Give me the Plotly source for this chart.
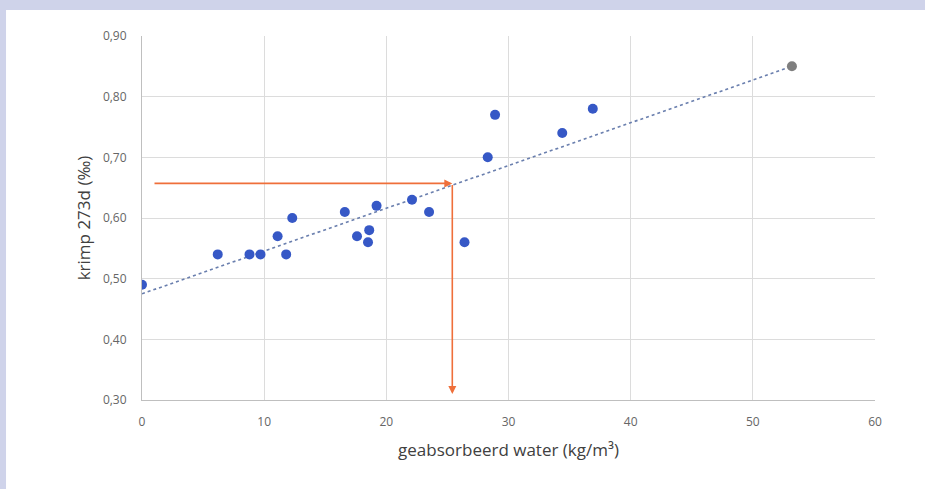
import plotly.graph_objects as go

# measured data: geabsorbeerd water (kg/m3) vs krimp 273d (permille)
water = [0.0, 6.2, 8.8, 9.7, 11.1, 11.8, 12.3, 16.6, 17.6, 18.5, 18.6, 19.2,
         22.1, 23.5, 26.4, 28.3, 28.9, 34.4, 36.9]
krimp = [0.49, 0.54, 0.54, 0.54, 0.57, 0.54, 0.60, 0.61, 0.57, 0.56, 0.58, 0.62,
         0.63, 0.61, 0.56, 0.70, 0.77, 0.74, 0.78]

# extrapolated (grey) point
extra_water = [53.2]
extra_krimp = [0.85]

# trendline endpoints
trend_water = [0.0, 53.2]
trend_krimp = [0.475, 0.85]

# reading arrows (orange)
read_water = [0.9, 25.4]
read_krimp = [0.657, 0.31]

x_ticks = [0, 10, 20, 30, 40, 50, 60]
y_ticks = [0.30, 0.40, 0.50, 0.60, 0.70, 0.80, 0.90]

fig = go.Figure()
fig.add_trace(go.Scatter(x=trend_water, y=trend_krimp, mode="lines",
                         line=dict(color="#6a7fae", width=1.6, dash="dot"),
                         hoverinfo="skip", showlegend=False))
fig.add_trace(go.Scatter(x=water, y=krimp, mode="markers",
                         marker=dict(color="#3658c6", size=10),
                         showlegend=False))
fig.add_trace(go.Scatter(x=extra_water, y=extra_krimp, mode="markers",
                         marker=dict(color="#7f7f7f", size=10),
                         showlegend=False))

orange = "#ef6f3a"
# horizontal arrow
fig.add_annotation(x=read_water[1], y=read_krimp[0], ax=read_water[0], ay=read_krimp[0],
                   xref="x", yref="y", axref="x", ayref="y", text="",
                   showarrow=True, arrowhead=2, arrowsize=1, arrowwidth=1.6,
                   arrowcolor=orange)
# vertical arrow
fig.add_annotation(x=read_water[1], y=read_krimp[1], ax=read_water[1], ay=read_krimp[0],
                   xref="x", yref="y", axref="x", ayref="y", text="",
                   showarrow=True, arrowhead=2, arrowsize=1, arrowwidth=1.6,
                   arrowcolor=orange)

lav = "#cfd3ea"
# lavender frame (left and top bands)
fig.add_shape(type="rect", xref="paper", yref="paper",
              x0=-0.1937, x1=-0.1855, y0=-0.2445, y1=1.0989,
              fillcolor=lav, line=dict(width=0), layer="above")
fig.add_shape(type="rect", xref="paper", yref="paper",
              x0=-0.1937, x1=1.0682, y0=1.0714, y1=1.0989,
              fillcolor=lav, line=dict(width=0), layer="above")

font_family = "Open Sans, Noto Sans, DejaVu Sans"
fig.update_layout(
    width=925, height=489,
    margin=dict(l=142, r=50, t=36, b=89),
    paper_bgcolor="white", plot_bgcolor="white",
    separators=",.",
    font=dict(family=font_family, color="#595959"),
    xaxis=dict(range=[0, 60], tickvals=x_ticks, ticktext=[str(v) for v in x_ticks],
               showgrid=True, gridcolor="#dcdcdc", gridwidth=1,
               showline=True, linecolor="#bfbfbf", linewidth=1, mirror=False,
               zeroline=False, ticks="outside", ticklen=11,
               tickcolor="rgba(0,0,0,0)",
               tickfont=dict(size=12, color="#666666"),
               title=dict(text="geabsorbeerd water (kg/m³)",
                          font=dict(size=17, color="#404040"), standoff=14)),
    yaxis=dict(range=[0.30, 0.90], tickvals=y_ticks, tickformat=".2f",
               showgrid=True, gridcolor="#dcdcdc", gridwidth=1,
               showline=True, linecolor="#bfbfbf", linewidth=1,
               zeroline=False, ticks="outside", ticklen=12,
               tickcolor="rgba(0,0,0,0)",
               tickfont=dict(size=12, color="#666666"),
               title=dict(text="krimp 273d (‰)",
                          font=dict(size=17, color="#404040"), standoff=7)),
)

fig.write_html("out.html", config={"displayModeBar": False},
               post_script="document.body.style.margin='0';document.body.style.overflow='hidden';")
